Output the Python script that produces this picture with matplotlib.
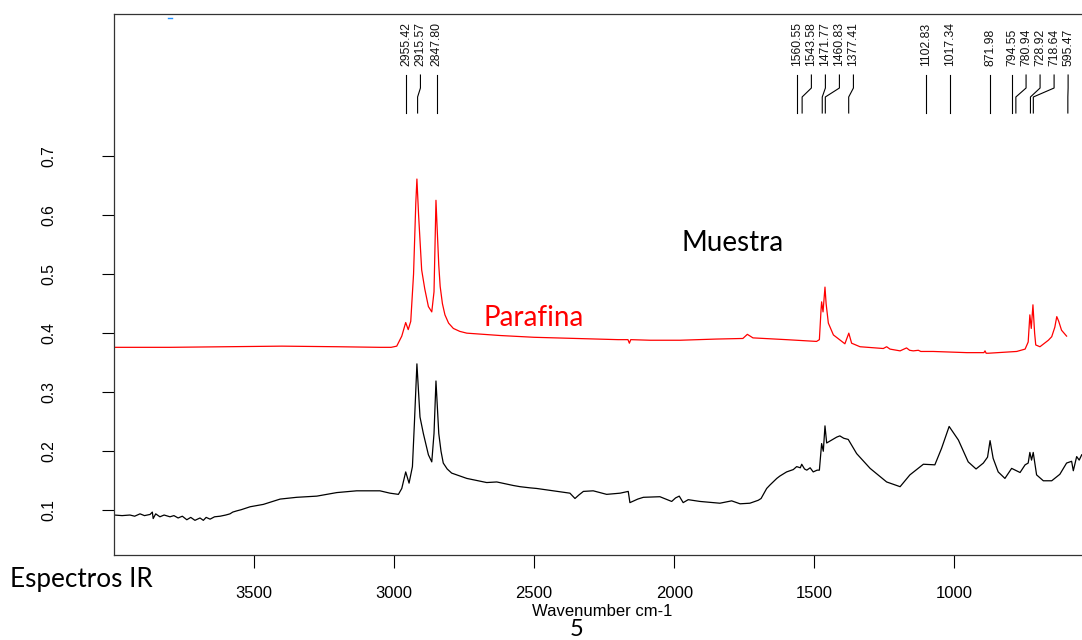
import matplotlib
matplotlib.use("Agg")
import matplotlib.pyplot as plt
import matplotlib.transforms as mtransforms

# ---------------- data ----------------
parafina_wn = [3998, 3800, 3600, 3400, 3200, 3050, 3010, 2990, 2972, 2958, 2949, 2940, 2930,
               2922, 2918, 2912, 2901, 2890, 2877, 2865, 2857, 2852, 2850, 2846, 2840, 2835,
               2827, 2818, 2805, 2788, 2765, 2740, 2621, 2500, 2350, 2200, 2165, 2160, 2155,
               2086, 1979, 1850, 1755, 1739, 1719, 1600, 1492, 1482, 1476, 1474, 1469, 1465,
               1462, 1458, 1450, 1432, 1391, 1377, 1367, 1337, 1254, 1242, 1230, 1194, 1171,
               1160, 1147, 1129, 1120, 1076, 956, 895, 891, 887, 879, 778, 748, 737, 731, 726,
               720, 714, 710, 695, 665, 653, 642, 635, 628, 618, 600]
parafina_abs = [0.376, 0.376, 0.377, 0.378, 0.377, 0.376, 0.376, 0.378, 0.395, 0.418, 0.406,
                0.420, 0.500, 0.620, 0.661, 0.600, 0.507, 0.475, 0.445, 0.436, 0.470, 0.580,
                0.625, 0.580, 0.515, 0.479, 0.450, 0.431, 0.417, 0.408, 0.403, 0.400, 0.396,
                0.393, 0.391, 0.389, 0.389, 0.383, 0.389, 0.388, 0.388, 0.390, 0.391, 0.398,
                0.392, 0.389, 0.386, 0.389, 0.440, 0.453, 0.436, 0.460, 0.478, 0.450, 0.417,
                0.397, 0.382, 0.400, 0.383, 0.377, 0.374, 0.377, 0.373, 0.370, 0.375, 0.371,
                0.370, 0.371, 0.369, 0.369, 0.367, 0.367, 0.370, 0.366, 0.366, 0.369, 0.373,
                0.385, 0.431, 0.408, 0.448, 0.400, 0.380, 0.377, 0.388, 0.394, 0.410, 0.428,
                0.420, 0.405, 0.395]

muestra_wn = [3998, 3970, 3942, 3925, 3906, 3890, 3870, 3862, 3859, 3850, 3835, 3820, 3799,
              3785, 3770, 3755, 3739, 3725, 3710, 3692, 3680, 3670, 3656, 3640, 3620, 3600,
              3585, 3575, 3561, 3545, 3513, 3466, 3406, 3347, 3275, 3204, 3133, 3061, 3050,
              3014, 2984, 2972, 2958, 2946, 2934, 2927, 2918, 2907, 2895, 2877, 2865, 2857,
              2850, 2840, 2832, 2824, 2810, 2794, 2740, 2669, 2633, 2574, 2550, 2514, 2491,
              2431, 2372, 2354, 2340, 2324, 2289, 2241, 2193, 2164, 2158, 2130, 2110, 2051,
              2009, 1995, 1982, 1968, 1950, 1908, 1837, 1795, 1765, 1730, 1700, 1690, 1670,
              1658, 1634, 1623, 1599, 1575, 1563, 1550, 1545, 1535, 1527, 1515, 1504, 1490,
              1482, 1474, 1468, 1462, 1456, 1438, 1420, 1409, 1395, 1379, 1349, 1301, 1242,
              1194, 1159, 1111, 1070, 1046, 1019, 986, 951, 923, 897, 882, 873, 862, 844, 820,
              796, 766, 748, 737, 731, 725, 719, 707, 683, 653, 624, 600, 582, 576, 564, 555,
              546]
muestra_abs = [0.092, 0.091, 0.092, 0.090, 0.094, 0.091, 0.093, 0.097, 0.086, 0.094, 0.089,
               0.092, 0.089, 0.091, 0.087, 0.090, 0.084, 0.088, 0.083, 0.087, 0.083, 0.088,
               0.085, 0.089, 0.090, 0.092, 0.094, 0.097, 0.099, 0.101, 0.106, 0.110, 0.119,
               0.122, 0.124, 0.130, 0.133, 0.133, 0.133, 0.129, 0.127, 0.137, 0.165, 0.146,
               0.174, 0.247, 0.348, 0.258, 0.230, 0.194, 0.182, 0.230, 0.319, 0.230, 0.200,
               0.180, 0.170, 0.163, 0.154, 0.147, 0.148, 0.142, 0.140, 0.138, 0.137, 0.133,
               0.129, 0.120, 0.126, 0.132, 0.133, 0.127, 0.129, 0.132, 0.113, 0.119, 0.122,
               0.123, 0.115, 0.121, 0.124, 0.113, 0.118, 0.115, 0.112, 0.116, 0.111, 0.112,
               0.117, 0.120, 0.137, 0.143, 0.154, 0.158, 0.165, 0.169, 0.174, 0.172, 0.178,
               0.170, 0.168, 0.172, 0.165, 0.168, 0.168, 0.213, 0.200, 0.243, 0.214, 0.219,
               0.224, 0.226, 0.222, 0.220, 0.196, 0.171, 0.148, 0.140, 0.160, 0.178, 0.177,
               0.205, 0.242, 0.219, 0.182, 0.170, 0.180, 0.190, 0.218, 0.188, 0.165, 0.154,
               0.171, 0.164, 0.177, 0.180, 0.198, 0.185, 0.198, 0.160, 0.150, 0.150, 0.161,
               0.180, 0.183, 0.167, 0.191, 0.185, 0.194]

peak_labels = [2955.42, 2915.57, 2847.80, 1560.55, 1543.58, 1471.77, 1460.83, 1377.41,
               1102.83, 1017.34, 871.98, 794.55, 780.94, 728.92, 718.64, 595.47]

x_ticks = [3500, 3000, 2500, 2000, 1500, 1000]
y_ticks = [0.1, 0.2, 0.3, 0.4, 0.5, 0.6, 0.7]

# ---------------- figure ----------------
W, H = 1082, 640
fig = plt.figure(figsize=(W / 100, H / 100), dpi=100)
ax_left, ax_right, ax_top, ax_bot = 114.5, 1089, 14, 555
ax = fig.add_axes([ax_left / W, (H - ax_bot) / H, (ax_right - ax_left) / W, (ax_bot - ax_top) / H])

ax.plot(parafina_wn, parafina_abs, color="#ff0000", lw=0.9)
ax.plot(muestra_wn, muestra_abs, color="black", lw=0.9)

ax.set_xlim(3997, 520)
ax.set_ylim(0.0243, 0.9405)

arial = "Liberation Sans"
ax.set_xticks(x_ticks)
ax.set_xticklabels([str(t) for t in x_ticks], fontfamily=arial, fontsize=12)
ax.set_yticks(y_ticks)
ax.set_yticklabels([f"{t:.1f}" for t in y_ticks], fontfamily=arial, fontsize=11.3,
                   rotation=90, va="center")
ax.tick_params(axis="x", direction="out", length=9, width=0.8, pad=13, colors="black")
ax.tick_params(axis="y", direction="out", length=9, width=0.8, pad=33, colors="black")
for s in ["left", "bottom", "top"]:
    ax.spines[s].set_linewidth(0.9)
    ax.spines[s].set_color("#333333")
ax.spines["right"].set_visible(False)

# peak labels with connectors
trans = mtransforms.blended_transform_factory(ax.transData, ax.transAxes)
spacing = 50.0
prev = None
for p in sorted(peak_labels, reverse=True):
    lab = p if prev is None else min(p, prev - spacing)
    prev = lab
    ax.plot([lab, lab, p, p], [0.8872, 0.8632, 0.8466, 0.8170], color="black", lw=0.8,
            transform=trans, clip_on=False)
    ax.text(lab, 0.904, f"{p:.2f}", rotation=90, ha="center", va="bottom",
            fontfamily=arial, fontsize=8.7, transform=trans, color="#111111")

# tiny blue mark near the top
ax.plot([0.0553, 0.0594], [0.9920, 0.9920], color="#1f8fff", lw=1.0, transform=ax.transAxes,
        clip_on=False)

# annotations
calib = ["Lato", "DejaVu Sans"]
ax.text(2679, 0.426, "Parafina", color="#ff0000", fontfamily=calib, fontsize=20,
        ha="left", va="center")
ax.text(1975, 0.553, "Muestra", color="black", fontfamily=calib, fontsize=20,
        ha="left", va="center")

fig.text(602 / W, 1 - 611 / H, "Wavenumber cm-1", fontfamily=arial, fontsize=12,
         ha="center", va="center")
fig.text(10 / W, 1 - 580 / H, "Espectros IR", fontfamily=calib, fontsize=18.8,
         ha="left", va="center")
fig.text(577 / W, 1 - 619 / H, "5", fontfamily=calib, fontsize=17, ha="center", va="top")

fig.savefig("out.png", dpi=100)
